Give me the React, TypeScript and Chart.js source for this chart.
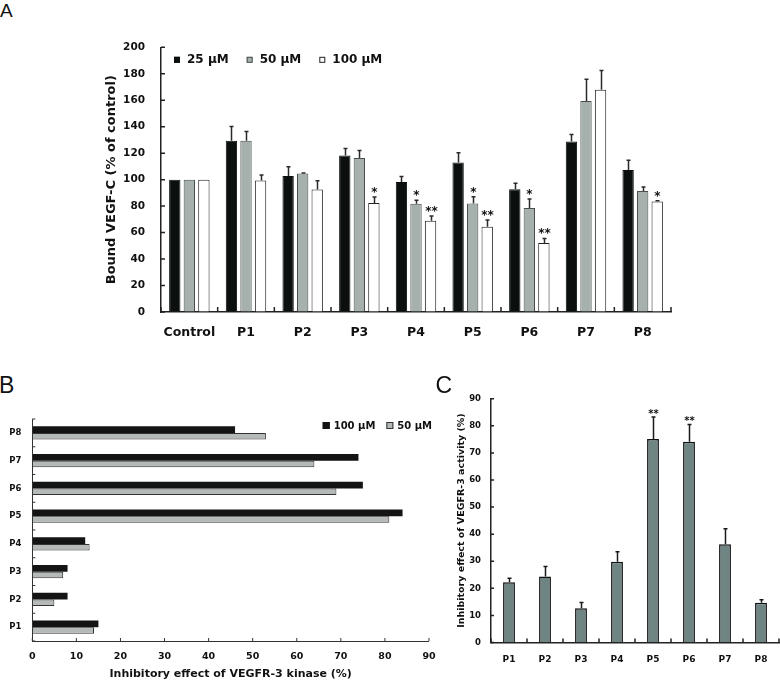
import React, { useEffect, useRef } from 'react';
import { Chart, registerables } from 'chart.js';

Chart.register(...registerables);

const FONT = 'DejaVu Sans';
const INK = '#111111';

// ---------- Panel A data ----------
const aCategories = ['Control', 'P1', 'P2', 'P3', 'P4', 'P5', 'P6', 'P7', 'P8'];
const aSeriesLabels = ['25 µM', '50 µM', '100 µM'];
const a25 = [100, 129.4, 102.8, 118.3, 98.2, 112.9, 92.8, 128.9, 107.2];
const a50 = [100, 129.4, 104.6, 116.4, 81.7, 81.9, 78.5, 159.4, 91.5];
const a100 = [100, 99.4, 92.5, 82.4, 68.9, 64.4, 52.2, 168.0, 83.4];
const a25Err = [0, 10.8, 6.9, 5.2, 4.2, 7.4, 4.4, 5.2, 7.4];
const a50Err = [0, 6.9, 0.4, 5.6, 2.7, 5.2, 6.9, 16.5, 3.0];
const a100Err = [0, 4.2, 6.6, 4.5, 3.7, 5.2, 3.4, 14.5, 0.7];
const a25Sig = ['', '', '', '', '', '', '', '', ''];
const a50Sig = ['', '', '', '', '*', '*', '*', '', ''];
const a100Sig = ['', '', '', '*', '**', '**', '**', '', '*'];
const aAxisMax = 200;
const aAxisStep = 20;
const aYTitle = 'Bound VEGF-C (% of control)';

// ---------- Panel B data ----------
const bCategories = ['P1', 'P2', 'P3', 'P4', 'P5', 'P6', 'P7', 'P8'];
const bSeriesLabels = ['100 µM', '50 µM'];
const b100 = [15, 8, 8, 12, 84, 75, 74, 46];
const b50 = [14, 5, 7, 13, 81, 69, 64, 53];
const bAxisMax = 90;
const bAxisStep = 10;
const bXTitle = 'Inhibitory effect of VEGFR-3 kinase (%)';

// ---------- Panel C data ----------
const cCategories = ['P1', 'P2', 'P3', 'P4', 'P5', 'P6', 'P7', 'P8'];
const cValues = [22.2, 24.4, 12.6, 29.8, 75.1, 74.1, 36.3, 14.7];
const cErr = [1.5, 3.7, 2.2, 3.7, 8.1, 6.4, 5.7, 1.1];
const cSig = ['', '', '', '', '**', '**', '', ''];
const cAxisMax = 90;
const cAxisStep = 10;
const cYTitle = 'Inhibitory effect of VEGFR-3 activity (%)';

type LegendCfg = {
  dx: number; dy: number; box: number; gap: number; itemGap: number; font: string;
};
type DecoCfg = {
  errors?: number[][];
  sigs?: string[][];
  sigFont?: string;
  sigLift?: number;
  capHalf?: number;
  errColor?: string;
  errWidth?: number;
  xTickLen?: number;
  yTickLen?: number;
  tickWidth?: number;
  tickColor?: string;
  legend?: LegendCfg;
};

function tickPositions(scale: any): number[] {
  if (scale.type === 'category') {
    const n = scale.getLabels().length;
    const p0 = scale.getPixelForValue(0);
    const step = n > 1 ? scale.getPixelForValue(1) - p0 : 0;
    const arr: number[] = [];
    for (let i = 0; i <= n; i++) arr.push(p0 + (i - 0.5) * step);
    return arr;
  }
  return scale.ticks.map((t: any) => scale.getPixelForValue(t.value));
}

function makeDeco(cfg: DecoCfg) {
  return {
    id: 'deco',
    afterDatasetsDraw(chart: any) {
      const ctx = chart.ctx;
      if (!cfg.errors) return;
      const vScale = chart.scales.y;
      ctx.save();
      ctx.strokeStyle = cfg.errColor || '#333';
      ctx.lineWidth = cfg.errWidth || 1.5;
      ctx.fillStyle = INK;
      ctx.font = cfg.sigFont || `bold 12px "${FONT}"`;
      ctx.textAlign = 'center';
      ctx.textBaseline = 'alphabetic';
      chart.data.datasets.forEach((ds: any, d: number) => {
        const meta = chart.getDatasetMeta(d);
        const errs = cfg.errors![d] || [];
        const sigs = (cfg.sigs && cfg.sigs[d]) || [];
        meta.data.forEach((el: any, i: number) => {
          const v = ds.data[i];
          const e = errs[i] || 0;
          const x = Math.round(el.x) + 0.5;
          const top = vScale.getPixelForValue(v + e);
          if (e > 0) {
            ctx.beginPath();
            ctx.moveTo(x, el.y);
            ctx.lineTo(x, top);
            ctx.moveTo(x - (cfg.capHalf || 2), top);
            ctx.lineTo(x + (cfg.capHalf || 2), top);
            ctx.stroke();
          }
          if (sigs[i]) {
            ctx.fillText(sigs[i], x, top - (cfg.sigLift || 0));
          }
        });
      });
      ctx.restore();
    },
    afterDraw(chart: any) {
      const ctx = chart.ctx;
      const area = chart.chartArea;
      ctx.save();
      ctx.strokeStyle = cfg.tickColor || '#222';
      ctx.lineWidth = cfg.tickWidth || 1.5;
      if (cfg.xTickLen) {
        const xs = tickPositions(chart.scales.x);
        ctx.beginPath();
        xs.forEach((p) => {
          ctx.moveTo(p, area.bottom);
          ctx.lineTo(p, area.bottom - cfg.xTickLen!);
        });
        ctx.stroke();
      }
      if (cfg.yTickLen) {
        const ys = tickPositions(chart.scales.y);
        ctx.beginPath();
        ys.forEach((p) => {
          ctx.moveTo(area.left, p);
          ctx.lineTo(area.left + cfg.yTickLen!, p);
        });
        ctx.stroke();
      }
      if (cfg.legend) {
        const L = cfg.legend;
        ctx.font = L.font;
        ctx.textBaseline = 'middle';
        ctx.textAlign = 'left';
        let x = area.left + L.dx;
        const cy = area.top + L.dy;
        chart.data.datasets.forEach((ds: any) => {
          ctx.fillStyle = ds.backgroundColor;
          ctx.fillRect(x, cy - L.box / 2, L.box, L.box);
          ctx.lineWidth = 1;
          ctx.strokeStyle = ds.borderColor || '#222';
          ctx.strokeRect(x + 0.5, cy - L.box / 2 + 0.5, L.box - 1, L.box - 1);
          ctx.fillStyle = INK;
          const tx = x + L.box + L.gap;
          ctx.fillText(ds.label, tx, cy + 0.5);
          x = tx + ctx.measureText(ds.label).width + L.itemGap;
        });
      }
      ctx.restore();
    },
  };
}

function bold(size: number) {
  return { family: FONT, weight: 'bold' as const, size };
}

function configA(): any {
  return {
    type: 'bar',
    data: {
      labels: aCategories,
      datasets: [
        { label: aSeriesLabels[0], data: a25, backgroundColor: '#0b100e', borderColor: '#0b100e', borderWidth: 1 },
        { label: aSeriesLabels[1], data: a50, backgroundColor: '#a6b0ad', borderColor: '#4a4f4d', borderWidth: 1 },
        { label: aSeriesLabels[2], data: a100, backgroundColor: '#ffffff', borderColor: '#222222', borderWidth: 1 },
      ],
    },
    options: {
      animation: false,
      responsive: true,
      maintainAspectRatio: false,
      layout: { padding: { left: 10, right: 19, top: 16, bottom: 0 } },
      datasets: { bar: { categoryPercentage: 0.77, barPercentage: 0.78 } },
      plugins: { legend: { display: false }, tooltip: { enabled: false } },
      scales: {
        x: {
          grid: { display: true, drawOnChartArea: false, drawTicks: false },
          border: { display: true, color: '#222', width: 1.5 },
          ticks: { font: bold(12.5), color: INK, padding: 13, maxRotation: 0, minRotation: 0, autoSkip: false },
          afterFit: (s: any) => { s.height = 43; },
        },
        y: {
          min: 0,
          max: aAxisMax,
          grid: { display: true, drawOnChartArea: false, drawTicks: false },
          border: { display: true, color: '#222', width: 1.5 },
          ticks: { stepSize: aAxisStep, font: bold(10.5), color: INK, padding: 16 },
          title: { display: true, text: aYTitle, font: bold(13), color: INK, padding: { top: 4, bottom: 0 } },
          afterFit: (s: any) => { s.width = 61; },
        },
      },
    },
    plugins: [
      makeDeco({
        errors: [a25Err, a50Err, a100Err],
        sigs: [a25Sig, a50Sig, a100Sig],
        sigFont: `bold 12px "${FONT}"`,
        sigLift: 1,
        capHalf: 2,
        errColor: '#2a2a2a',
        errWidth: 1.5,
        xTickLen: 5,
        yTickLen: 4,
        legend: { dx: 13, dy: 12.5, box: 6, gap: 7, itemGap: 18, font: `bold 12px "${FONT}"` },
      }),
    ],
  };
}

function configB(): any {
  return {
    type: 'bar',
    data: {
      labels: bCategories,
      datasets: [
        { label: bSeriesLabels[0], data: b100, backgroundColor: '#141414', borderColor: '#141414', borderWidth: 0 },
        { label: bSeriesLabels[1], data: b50, backgroundColor: '#b5bab8', borderColor: '#333333', borderWidth: 1 },
      ],
    },
    options: {
      indexAxis: 'y',
      animation: false,
      responsive: true,
      maintainAspectRatio: false,
      layout: { padding: { left: 0, right: 11.7, top: 19, bottom: 0 } },
      datasets: { bar: { categoryPercentage: 0.47, barPercentage: 1.0 } },
      plugins: { legend: { display: false }, tooltip: { enabled: false } },
      scales: {
        y: {
          reverse: true,
          grid: { display: true, drawOnChartArea: false, drawTicks: false },
          border: { display: true, color: '#333', width: 1 },
          ticks: { font: bold(8.5), color: INK, padding: 11, autoSkip: false },
          afterFit: (s: any) => { s.width = 32.3; },
        },
        x: {
          min: 0,
          max: bAxisMax,
          grid: { display: true, drawOnChartArea: false, drawTicks: false },
          border: { display: true, color: '#333', width: 1 },
          ticks: { stepSize: bAxisStep, font: bold(9.5), color: INK, padding: 9.4, maxRotation: 0 },
          title: { display: true, text: bXTitle, font: bold(11), color: INK, padding: { top: 0, bottom: 0 } },
          afterFit: (s: any) => { s.height = 40; },
        },
      },
    },
    plugins: [
      makeDeco({
        tickWidth: 1,
        tickColor: '#333',
        xTickLen: 3,
        yTickLen: 3,
        legend: { dx: 290.4, dy: 6.5, box: 7, gap: 4, itemGap: 11, font: `bold 10px "${FONT}"` },
      }),
    ],
  };
}

function configC(): any {
  return {
    type: 'bar',
    data: {
      labels: cCategories,
      datasets: [
        { label: 'activity', data: cValues, backgroundColor: '#6e8584', borderColor: '#111111', borderWidth: 1.5 },
      ],
    },
    options: {
      animation: false,
      responsive: true,
      maintainAspectRatio: false,
      layout: { padding: { left: 16, right: 1, top: 18.7, bottom: 0 } },
      datasets: { bar: { categoryPercentage: 1.0, barPercentage: 0.33 } },
      plugins: { legend: { display: false }, tooltip: { enabled: false } },
      scales: {
        x: {
          grid: { display: true, drawOnChartArea: false, drawTicks: false },
          border: { display: true, color: '#222', width: 1.5 },
          ticks: { font: bold(9), color: INK, padding: 12, maxRotation: 0, minRotation: 0, autoSkip: false },
          afterFit: (s: any) => { s.height = 38.5; },
        },
        y: {
          min: 0,
          max: cAxisMax,
          grid: { display: true, drawOnChartArea: false, drawTicks: false },
          border: { display: true, color: '#222', width: 1.5 },
          ticks: { stepSize: cAxisStep, font: bold(8.5), color: INK, padding: 10 },
          title: { display: true, text: cYTitle, font: bold(9.5), color: INK, padding: { top: 0, bottom: 0 } },
          afterFit: (s: any) => { s.width = 35; },
        },
      },
    },
    plugins: [
      makeDeco({
        errors: [cErr],
        sigs: [cSig],
        sigFont: `bold 10px "${FONT}"`,
        sigLift: 0,
        capHalf: 2,
        errColor: '#1a1a1a',
        errWidth: 1.5,
        xTickLen: 4,
        yTickLen: 3,
      }),
    ],
  };
}

function ChartBox({ make, left, top, width, height }: { make: () => any; left: number; top: number; width: number; height: number }) {
  const ref = useRef<HTMLCanvasElement>(null);
  useEffect(() => {
    const chart = new Chart(ref.current as HTMLCanvasElement, make());
    return () => chart.destroy();
  }, []);
  return (
    <div style={{ position: 'absolute', left, top, width, height }}>
      <canvas ref={ref} />
    </div>
  );
}

const letterStyle: React.CSSProperties = {
  position: 'absolute',
  fontFamily: '"Liberation Sans", Arial, sans-serif',
  lineHeight: 1,
  color: INK,
  margin: 0,
};

export default function App() {
  return (
    <div style={{ position: 'absolute', left: 0, top: 0, width: 780, height: 681, background: '#fff', overflow: 'hidden' }}>
      <ChartBox make={configA} left={90} top={25} width={600} height={330} />
      <ChartBox make={configB} left={0} top={400} width={445} height={281} />
      <ChartBox make={configC} left={440} top={380} width={340} height={301} />
      <span style={{ ...letterStyle, left: 0, top: 1, fontSize: 19 }}>A</span>
      <span style={{ ...letterStyle, left: -1, top: 374, fontSize: 23 }}>B</span>
      <span style={{ ...letterStyle, left: 435.5, top: 374, fontSize: 23 }}>C</span>
    </div>
  );
}
